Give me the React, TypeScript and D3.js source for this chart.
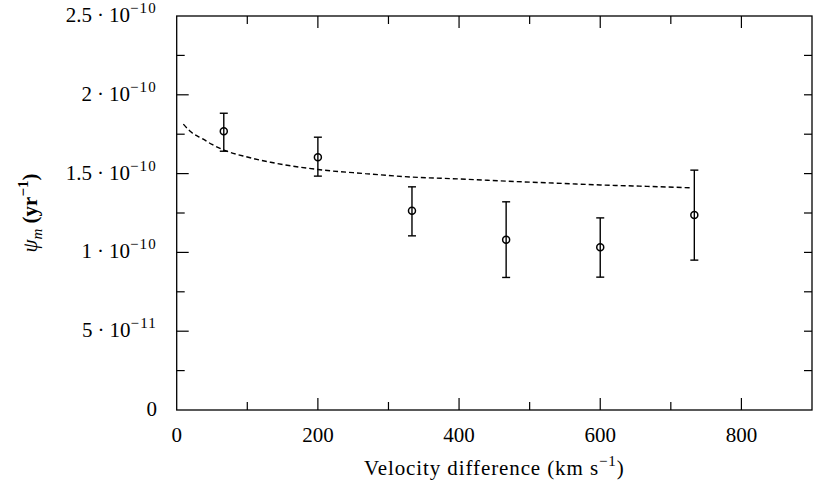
import React from "react";
import * as d3 from "d3";

const pointX = [66.7, 200, 333.3, 466.7, 600, 733.3];
const pointY = [1.769e-10, 1.604e-10, 1.264e-10, 1.08e-10, 1.032e-10, 1.237e-10];
const errLow = [1.642e-10, 1.484e-10, 1.105e-10, 0.841e-10, 0.843e-10, 0.951e-10];
const errHigh = [1.883e-10, 1.731e-10, 1.416e-10, 1.321e-10, 1.219e-10, 1.522e-10];

const modelX = [9.4, 20, 37, 50, 67, 100, 133, 200, 267, 333, 400, 467, 533, 600, 667, 728];
const modelY = [1.814e-10, 1.765e-10, 1.72e-10, 1.685e-10, 1.649e-10, 1.605e-10, 1.572e-10, 1.526e-10, 1.5e-10, 1.478e-10, 1.466e-10, 1.452e-10, 1.44e-10, 1.428e-10, 1.419e-10, 1.41e-10];

const xTicksMajor = [0, 200, 400, 600, 800];
const xTicksMinor = [100, 300, 500, 700];
const yTickLabels = [
  { v: 0, base: "0", exp: "" },
  { v: 5e-11, base: "5", exp: "−11" },
  { v: 1e-10, base: "1", exp: "−10" },
  { v: 1.5e-10, base: "1.5", exp: "−10" },
  { v: 2e-10, base: "2", exp: "−10" },
  { v: 2.5e-10, base: "2.5", exp: "−10" },
];
const yTicksMinor = [2.5e-11, 7.5e-11, 1.25e-10, 1.75e-10, 2.25e-10];

const W = 830;
const H = 489;
const L = 176.7, R = 812, T = 16, B = 410;
const FONT = "'Liberation Serif', 'DejaVu Serif', serif";

export default function App() {
  const x = d3.scaleLinear().domain([0, 900]).range([L, R]);
  const y = d3.scaleLinear().domain([0, 2.5e-10]).range([B, T]);
  const line = d3
    .line<number>()
    .x((_, i) => x(modelX[i]))
    .y((d) => y(d))
    .curve(d3.curveMonotoneX);

  return (
    <svg
      width={W}
      height={H}
      style={{ position: "absolute", left: 0, top: 0, background: "#fff" }}
      fontFamily={FONT}
    >
      <rect x={0} y={0} width={W} height={H} fill="#fff" />
      <rect x={L} y={T} width={R - L} height={B - T} fill="none" stroke="#000" strokeWidth={1.3} />
      {xTicksMajor.map((t) => (
        <g key={"xm" + t}>
          {t > 0 && (
            <>
              <line x1={x(t)} x2={x(t)} y1={B} y2={B - 12} stroke="#000" strokeWidth={1.2} />
              <line x1={x(t)} x2={x(t)} y1={T} y2={T + 12} stroke="#000" strokeWidth={1.2} />
            </>
          )}
          <text x={x(t)} y={442} textAnchor="middle" fontSize={21}>
            {t}
          </text>
        </g>
      ))}
      {xTicksMinor.map((t) => (
        <g key={"xn" + t}>
          <line x1={x(t)} x2={x(t)} y1={B} y2={B - 8} stroke="#000" strokeWidth={1.2} />
          <line x1={x(t)} x2={x(t)} y1={T} y2={T + 8} stroke="#000" strokeWidth={1.2} />
        </g>
      ))}
      {yTickLabels.map((t) => (
        <g key={"ym" + t.v}>
          {t.v > 0 && t.v < 2.5e-10 && (
            <>
              <line x1={L} x2={L + 12} y1={y(t.v)} y2={y(t.v)} stroke="#000" strokeWidth={1.2} />
              <line x1={R} x2={R - 8} y1={y(t.v)} y2={y(t.v)} stroke="#000" strokeWidth={1.2} />
            </>
          )}
          <text x={157} y={y(t.v) + 6} textAnchor="end" fontSize={21}>
            {t.base}
            {t.exp && (
              <>
                <tspan dx={5}>·</tspan>
                <tspan dx={5}>10</tspan>
                <tspan fontSize={15} dy={-9} letterSpacing={1.2}>
                  {t.exp}
                </tspan>
              </>
            )}
          </text>
        </g>
      ))}
      {yTicksMinor.map((t) => (
        <g key={"yn" + t}>
          <line x1={L} x2={L + 8} y1={y(t)} y2={y(t)} stroke="#000" strokeWidth={1.2} />
          <line x1={R} x2={R - 8} y1={y(t)} y2={y(t)} stroke="#000" strokeWidth={1.2} />
        </g>
      ))}
      <path
        d={line(modelY) || ""}
        fill="none"
        stroke="#000"
        strokeWidth={1.4}
        strokeDasharray="5,3"
      />
      {pointX.map((px, i) => (
        <g key={"p" + i}>
          <line x1={x(px)} x2={x(px)} y1={y(errLow[i])} y2={y(errHigh[i])} stroke="#000" strokeWidth={1.4} />
          <line x1={x(px) - 4} x2={x(px) + 4} y1={y(errLow[i])} y2={y(errLow[i])} stroke="#000" strokeWidth={1.4} />
          <line x1={x(px) - 4} x2={x(px) + 4} y1={y(errHigh[i])} y2={y(errHigh[i])} stroke="#000" strokeWidth={1.4} />
          <circle cx={x(px)} cy={y(pointY[i])} r={3.5} fill="none" stroke="#000" strokeWidth={1.5} />
        </g>
      ))}
      <text x={(L + R) / 2} y={475} textAnchor="middle" fontSize={21} letterSpacing={0.9}>
        Velocity difference (km s
        <tspan fontSize={15} dy={-9}>−1</tspan>
        <tspan dy={9}>)</tspan>
      </text>
      <text
        transform={`translate(37, ${(T + B) / 2}) rotate(-90)`}
        textAnchor="middle"
        fontSize={21}
      >
        <tspan fontStyle="italic">ψ</tspan>
        <tspan fontStyle="italic" fontSize={15} dy={5}>m</tspan>
        <tspan dy={-5} fontWeight="bold"> (yr</tspan>
        <tspan fontSize={15} dy={-9} fontWeight="bold">−1</tspan>
        <tspan dy={9} fontWeight="bold">)</tspan>
      </text>
    </svg>
  );
}
